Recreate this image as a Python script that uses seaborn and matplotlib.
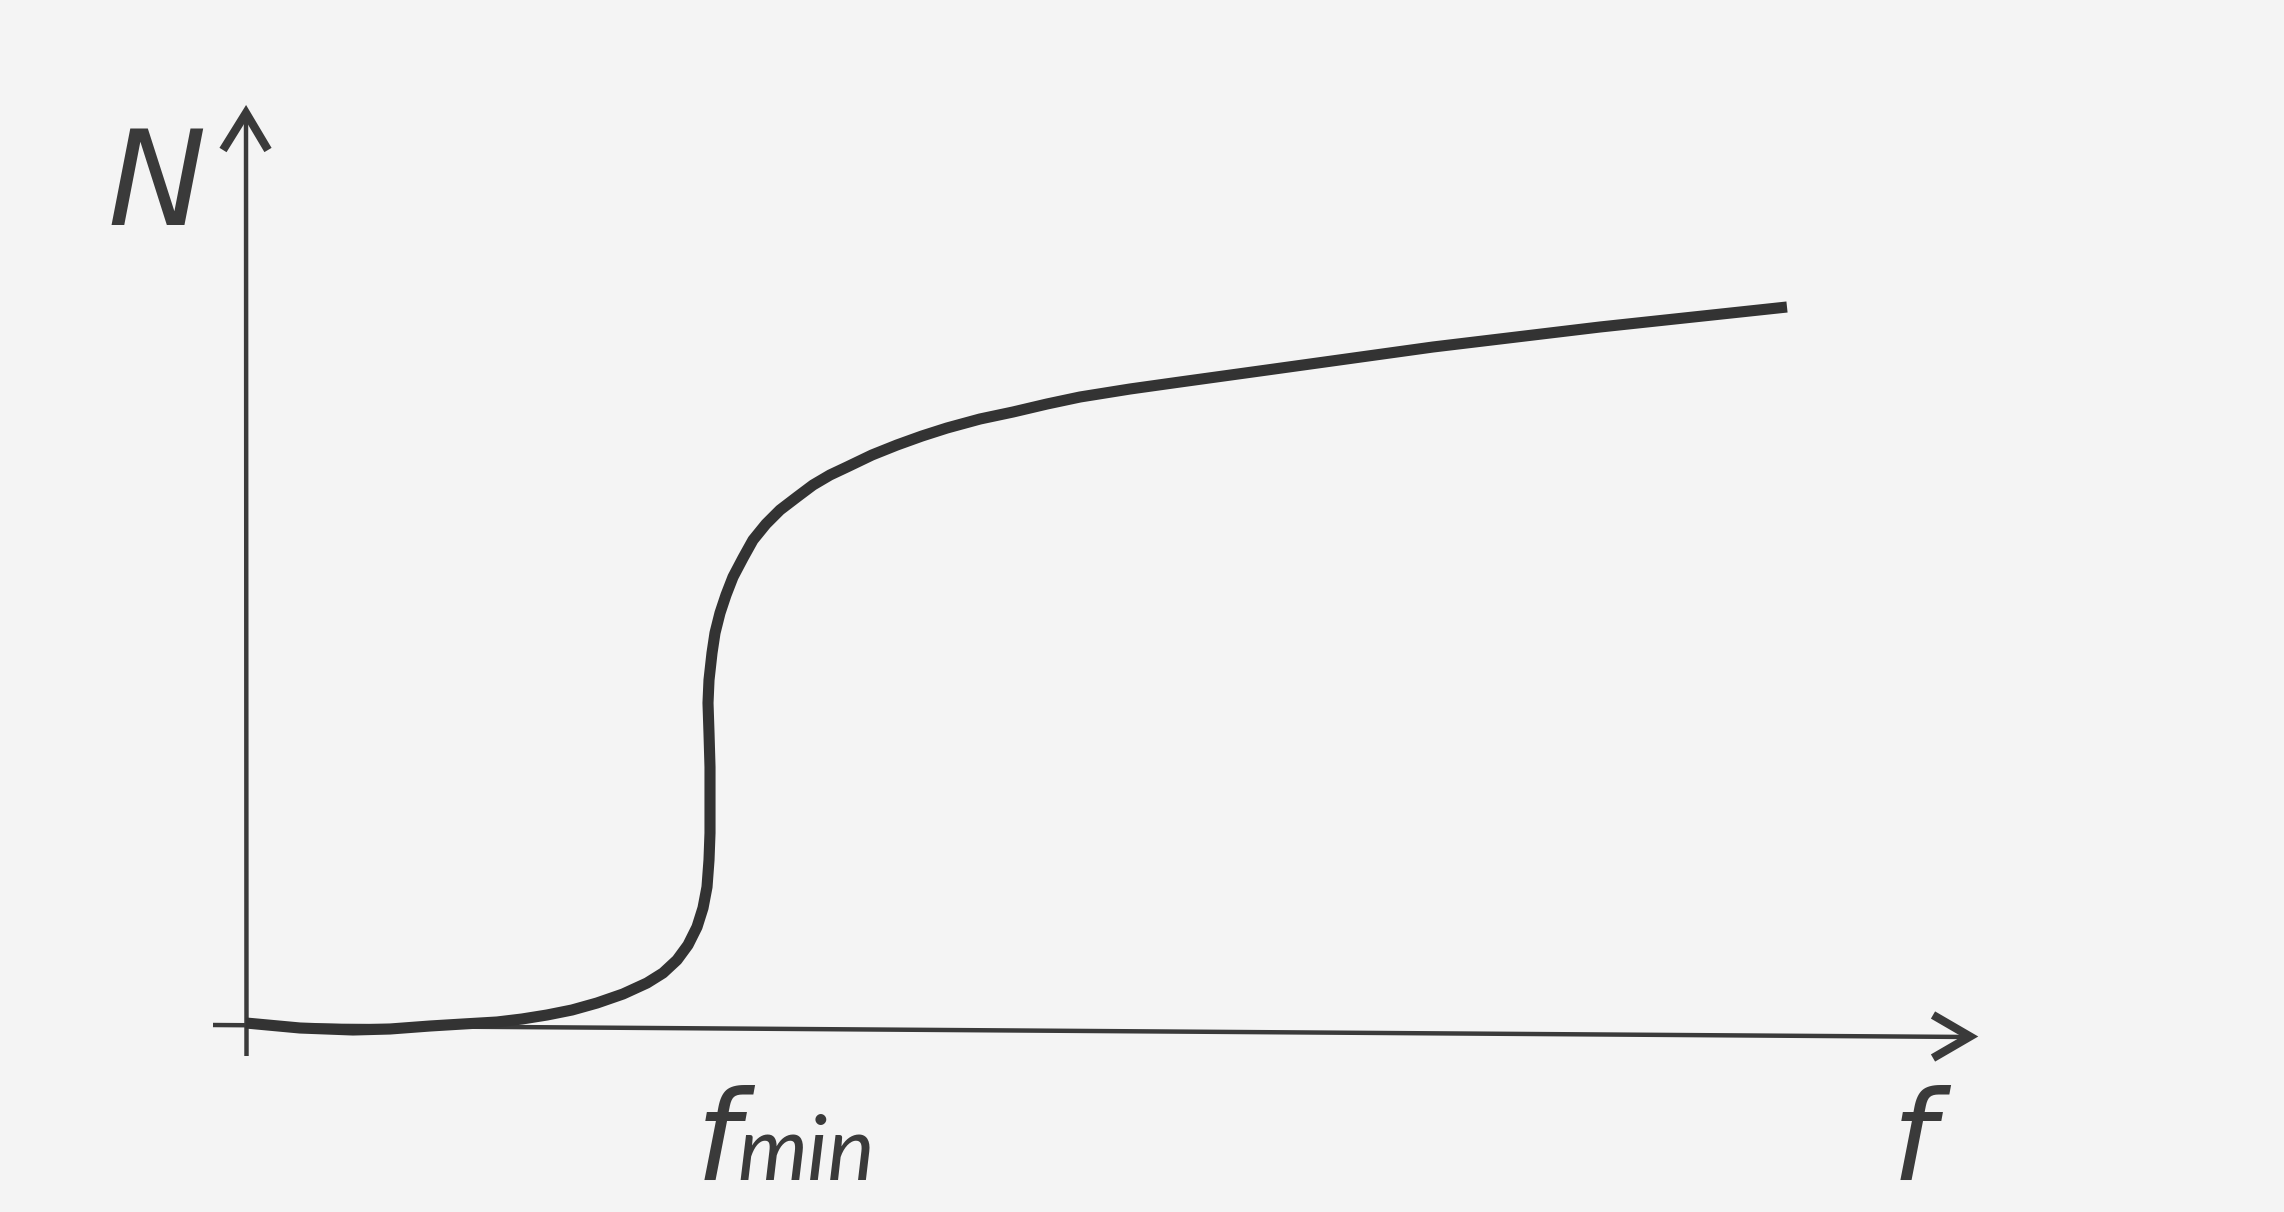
"""
Esboço: curva N(f) com limiar f_min
"""
import matplotlib.pyplot as plt
import seaborn as sns
import numpy as np
import pandas as pd

plt.switch_backend('Agg')

# Curva (f, N) - unidades arbitrárias, origem no cruzamento dos eixos
f_vals = [-0.01, 0.53, 1.06, 1.43, 1.83, 2.16, 2.50, 2.75, 3.00, 3.25, 3.50, 3.76,
          4.00, 4.16, 4.30, 4.41, 4.50, 4.56, 4.60, 4.62, 4.63, 4.63, 4.63, 4.62,
          4.61, 4.62, 4.65, 4.68, 4.73, 4.79, 4.86, 4.96, 5.06, 5.19, 5.33, 5.50,
          5.66, 5.83, 6.00, 6.25, 6.50, 6.75, 7.00, 7.33, 7.66, 8.00, 8.33, 8.83,
          9.33, 10.20, 11.86, 13.53, 15.40]
N_vals = [0.02, -0.03, -0.05, -0.04, -0.01, 0.01, 0.03, 0.06, 0.10, 0.15, 0.22, 0.31,
          0.42, 0.52, 0.65, 0.80, 0.98, 1.17, 1.38, 1.65, 1.92, 2.25, 2.58, 2.92,
          3.22, 3.45, 3.72, 3.92, 4.12, 4.30, 4.48, 4.67, 4.85, 5.01, 5.15, 5.28,
          5.40, 5.50, 5.58, 5.70, 5.80, 5.89, 5.97, 6.06, 6.13, 6.21, 6.28, 6.36,
          6.43, 6.55, 6.78, 6.98, 7.18]

# Rótulos
label_y = 'N'
label_x = 'f'
label_fmin = 'f'
label_fmin_sub = 'min'

sns.set_style('white')
plt.rcParams['font.family'] = ['DejaVu Sans']

bg = '#f4f4f4'
ink = '#3a3a3a'

fig = plt.figure(figsize=(22.84, 12.12), dpi=100, facecolor=bg)
ax = fig.add_axes([0, 0, 1, 1])
ax.set_facecolor(bg)

df = pd.DataFrame({'f': f_vals, 'N': N_vals})

# Eixo vertical com seta aberta
ax.plot([-0.005, -0.01], [-0.31, 9.12], color=ink, linewidth=3.2, solid_capstyle='butt')
ax.plot([-0.24, -0.01, 0.21], [8.75, 9.12, 8.75], color=ink, linewidth=6.0,
        solid_joinstyle='miter', solid_capstyle='butt')

# Eixo horizontal (levemente inclinado, como no original)
ax.plot([-0.34, 17.23], [0.0, -0.12], color=ink, linewidth=3.2, solid_capstyle='butt')
ax.plot([16.86, 17.23, 16.86], [0.10, -0.115, -0.33], color=ink, linewidth=6.0,
        solid_joinstyle='miter', solid_capstyle='butt')

# Curva
sns.lineplot(data=df, x='f', y='N', sort=False, estimator=None, color='#333333',
             ax=ax, legend=False)
curva = ax.lines[-1]
curva.set_linewidth(8.0)
curva.set_solid_capstyle('butt')
curva.set_solid_joinstyle('round')
ax.set_xlim(-2.47, 20.37)
ax.set_ylim(-1.87, 10.25)
ax.axis('off')

# Textos
ax.text(-1.40, 8.00, label_y, fontsize=95, style='italic', color=ink,
        ha='left', va='baseline')
ax.text(4.49, -1.55, label_fmin, fontsize=89, style='italic', color=ink,
        ha='left', va='baseline')
ax.text(4.90, -1.55, label_fmin_sub, fontsize=64, style='italic', color=ink,
        family=['Lato', 'DejaVu Sans'], ha='left', va='baseline')
ax.text(16.45, -1.55, label_x, fontsize=89, style='italic', color=ink,
        ha='left', va='baseline')

fig.savefig('out.png', dpi=100, facecolor=bg)
plt.close(fig)
